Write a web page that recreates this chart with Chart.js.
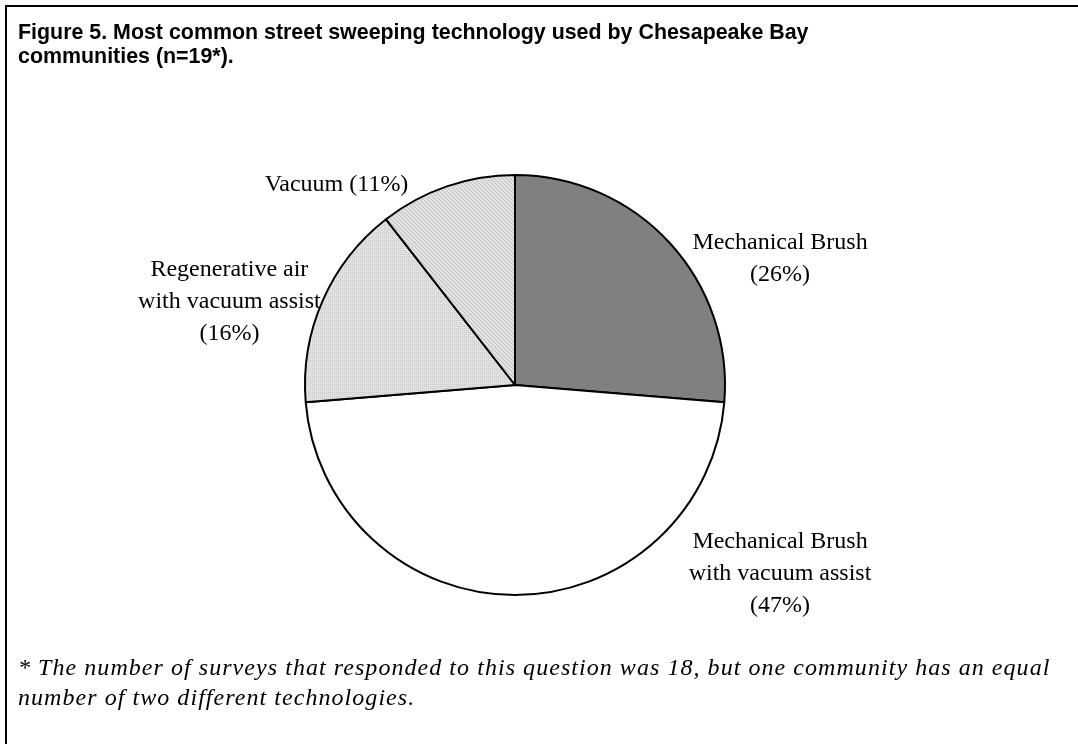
<!DOCTYPE html>
<html>
<head>
<meta charset="utf-8">
<script src="https://cdn.jsdelivr.net/npm/chart.js@4.4.0/dist/chart.umd.min.js"></script>
<style>
  html, body { margin: 0; padding: 0; background: #fff; }
  #wrap { position: relative; width: 1078px; height: 744px; overflow: hidden; }
  #frame { position: absolute; left: 5px; top: 5px; width: 1080px; height: 750px;
           border-left: 2px solid #000; border-top: 2px solid #000; }
  #title { position: absolute; left: 18px; top: 20px; font: bold 21.4px "Liberation Sans", Arial, sans-serif;
           line-height: 24px; color: #000; }
  #note { position: absolute; left: 18px; top: 652px; font: italic 24px "Liberation Serif", "Times New Roman", serif;
          line-height: 30px; letter-spacing: 1.05px; color: #000; }
  canvas { position: absolute; left: 0; top: 0; }
</style>
</head>
<body>
<div id="wrap">
  <canvas id="Graph" width="1078" height="744"></canvas>
  <div id="frame"></div>
  <div id="title">Figure 5. Most common street sweeping technology used by Chesapeake Bay<br>communities (n=19*).</div>
  <div id="note">* The number of surveys that responded to this question was 18, but one community has an equal<br>number of two different technologies.</div>
</div>
<script>
// Survey counts (n=19)
const categories = ['Mechanical Brush', 'Mechanical Brush with vacuum assist', 'Regenerative air with vacuum assist', 'Vacuum'];
const counts = [5, 9, 3, 2];
// how each label is broken into lines (percent goes on its own line or inline)
const labelLines = [
    ['Mechanical Brush'],
    ['Mechanical Brush', 'with vacuum assist'],
    ['Regenerative air', 'with vacuum assist'],
    ['Vacuum']
];

function makePattern(base, dot, kind) {
    const c = document.createElement('canvas');
    c.width = 4; c.height = 4;
    const g = c.getContext('2d');
    g.fillStyle = base;
    g.fillRect(0, 0, 4, 4);
    g.fillStyle = dot;
    if (kind === 'dots') {
        g.fillRect(0, 0, 1, 1); g.fillRect(2, 2, 1, 1);
        g.fillRect(2, 0, 1, 1); g.fillRect(0, 2, 1, 1);
    } else {
        g.fillRect(0, 0, 1, 1); g.fillRect(1, 1, 1, 1);
        g.fillRect(2, 2, 1, 1); g.fillRect(3, 3, 1, 1);
    }
    return g.createPattern(c, 'repeat');
}

const ctx = document.getElementById('Graph').getContext('2d');
const fills = ['#808080', '#ffffff', makePattern('#e2e2e2', '#c8c8c8', 'dots'), makePattern('#e2e2e2', '#c0c0c0', 'diag')];

// label anchors, in units of pie radius from pie centre
const labelAnchors = [
    { dx: 1.262, dy: -0.602, inline: false },
    { dx: 1.262, dy: 0.90, inline: false },
    { dx: -1.36, dy: -0.395, inline: false },
    { dx: -0.85, dy: -0.952, inline: true }
];

const sliceLabels = {
    id: 'sliceLabels',
    afterDatasetsDraw(chart) {
        const meta = chart.getDatasetMeta(0);
        const total = counts.reduce((a, b) => a + b, 0);
        const c = chart.ctx;
        c.save();
        c.fillStyle = '#000';
        c.font = '24px "Liberation Serif", "Times New Roman", serif';
        c.textAlign = 'center';
        c.textBaseline = 'middle';
        meta.data.forEach((arc, i) => {
            const r = arc.outerRadius;
            const a = labelAnchors[i];
            const x = arc.x + a.dx * r;
            const y = arc.y + a.dy * r;
            const pct = '(' + Math.round(counts[i] / total * 100) + '%)';
            let lines = labelLines[i].slice();
            if (a.inline) lines[lines.length - 1] += ' ' + pct;
            else lines.push(pct);
            const lh = 32;
            lines.forEach((t, k) => {
                c.fillText(t, x, y + (k - (lines.length - 1) / 2) * lh);
            });
        });
        c.restore();
    }
};

new Chart(ctx, {
    type: 'pie',
    data: {
        labels: categories,
        datasets: [{
            data: counts,
            backgroundColor: fills,
            borderColor: '#000',
            borderWidth: 2
        }]
    },
    options: {
        responsive: false,
        animation: false,
        layout: { padding: { left: 304, right: 352, top: 174, bottom: 148 } },
        plugins: {
            legend: { display: false },
            tooltip: { enabled: false }
        }
    },
    plugins: [sliceLabels]
});
</script>
</body>
</html>
